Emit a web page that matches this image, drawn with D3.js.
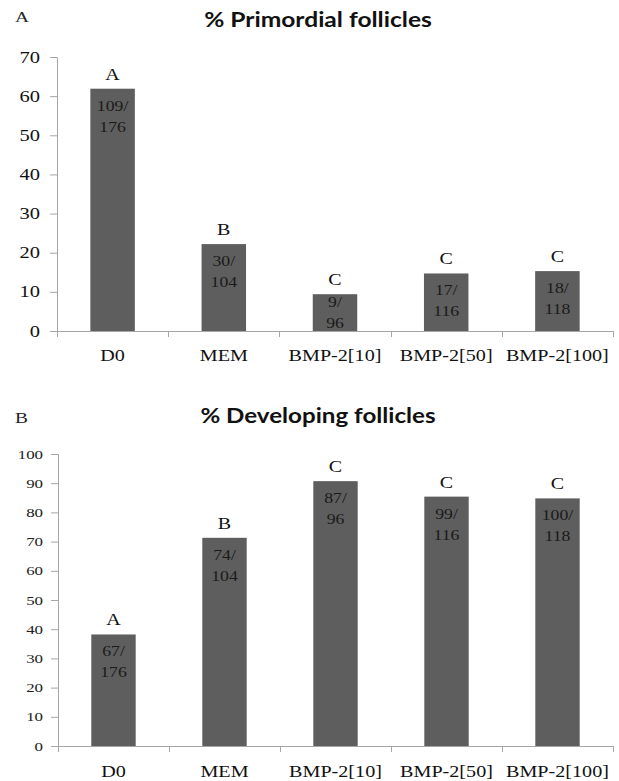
<!DOCTYPE html>
<html>
<head>
<meta charset="utf-8">
<script src="https://cdn.jsdelivr.net/npm/d3@7/dist/d3.min.js"></script>
<style>
	body { margin: 0; background: #fff; }
	svg { display: block; }
</style>
</head>
<body>
<svg id="chart" width="619" height="781"></svg>
<script>
// categories shared by both panels
const groups = ["D0", "MEM", "BMP-2[10]", "BMP-2[50]", "BMP-2[100]"];

// panel A : % primordial follicles
const primordialValues = [61.9, 22.2, 9.4, 14.7, 15.3];
const primordialCounts = [["109/", "176"], ["30/", "104"], ["9/", "96"], ["17/", "116"], ["18/", "118"]];
const primordialLetters = ["A", "B", "C", "C", "C"];
const primordialTicks = [0, 10, 20, 30, 40, 50, 60, 70];

// panel B : % developing follicles
const developingValues = [38.2, 71.3, 90.7, 85.4, 84.8];
const developingCounts = [["67/", "176"], ["74/", "104"], ["87/", "96"], ["99/", "116"], ["100/", "118"]];
const developingLetters = ["A", "B", "C", "C", "C"];
const developingTicks = [0, 10, 20, 30, 40, 50, 60, 70, 80, 90, 100];

const barColor = "#5e5e5e";
const axisColor = "#a6a6a6";
const serif = "'Liberation Serif', 'Times New Roman', serif";
const sans = "Lato, 'Open Sans', sans-serif";

let svg = d3.select('#chart');

// the source picture is stretched sideways, so widen glyphs the same way
function widen(sel, f){
	sel.each(function(){
		let w = this.getComputedTextLength();
		d3.select(this)
			.attr('textLength', w * f)
			.attr('lengthAdjust', 'spacingAndGlyphs');
	});
}

function panel(opt){
	let g = svg.append('g');

	let y = d3.scaleLinear()
		.domain([0, d3.max(opt.ticks)])
		.range([opt.bottom, opt.top]);

	// excel style: gap width 150% -> bar is 40% of the category slot
	let x = d3.scaleBand()
		.domain(groups)
		.range([opt.left, opt.right])
		.paddingInner(0.6)
		.paddingOuter(0.3);

	// panel letter and title
	g.append('text')
		.attr('x', 15).attr('y', opt.letterY)
		.style('font-family', serif)
		.style('font-size', '15.5px')
		.style('fill', '#222')
		.text(opt.panel)
		.call(widen, 1.25);

	g.append('text')
		.attr('x', 318).attr('y', opt.titleY)
		.attr('text-anchor', 'middle')
		.style('font-family', sans)
		.style('font-weight', '700')
		.style('font-size', '21px')
		.style('fill', '#111')
		.text(opt.title)
		.call(widen, opt.titleStretch);

	// y axis
	let yAxis = d3.axisLeft(y)
		.tickValues(opt.ticks)
		.tickSize(7)
		.tickPadding(opt.tickPad)
		.tickFormat(d3.format('d'));

	let ya = g.append('g')
		.attr('transform', `translate(${opt.left},0)`)
		.call(yAxis);
	ya.select('.domain').attr('stroke', axisColor);
	ya.selectAll('.tick line').attr('stroke', axisColor);
	ya.selectAll('.tick text')
		.style('font-family', serif)
		.style('font-size', opt.tickFont)
		.style('fill', opt.tickColor)
		.call(widen, opt.tickStretch);

	// x axis line with ticks on the category boundaries
	let bounds = groups.map(c => x(c) + x.bandwidth() / 2 - x.step() / 2);
	bounds.push(opt.right);

	g.append('line')
		.attr('x1', opt.left).attr('x2', opt.right)
		.attr('y1', opt.bottom + 0.5).attr('y2', opt.bottom + 0.5)
		.attr('stroke', axisColor);

	g.selectAll('.xtick')
		.data(bounds)
		.enter()
		.append('line')
		.attr('class', 'xtick')
		.attr('x1', d => Math.round(d) + 0.5).attr('x2', d => Math.round(d) + 0.5)
		.attr('y1', opt.bottom).attr('y2', opt.bottom + 6)
		.attr('stroke', axisColor);

	g.selectAll('.xlabel')
		.data(groups)
		.enter()
		.append('text')
		.attr('class', 'xlabel')
		.attr('x', d => x(d) + x.bandwidth() / 2)
		.attr('y', opt.bottom + opt.labelDy)
		.attr('text-anchor', 'middle')
		.style('font-family', serif)
		.style('font-size', '16.5px')
		.style('fill', '#111')
		.text(d => d)
		.call(widen, 1.22);

	// bars
	let bars = g.selectAll('.bar')
		.data(groups.map((c, i) => ({
			name: c,
			value: opt.values[i],
			count: opt.counts[i],
			letter: opt.letters[i]
		})))
		.enter()
		.append('g')
		.attr('class', 'bar');

	bars.append('rect')
		.attr('x', d => x(d.name))
		.attr('y', d => y(d.value))
		.attr('width', x.bandwidth())
		.attr('height', d => opt.bottom - y(d.value))
		.style('fill', barColor);

	bars.append('text')
		.attr('x', d => x(d.name) + x.bandwidth() / 2)
		.attr('y', d => y(d.value) - 9)
		.attr('text-anchor', 'middle')
		.style('font-family', serif)
		.style('font-size', '16px')
		.style('fill', '#111')
		.text(d => d.letter)
		.call(widen, 1.25);

	// the count label is kept inside the bar: lift it on short bars
	function lift(d){
		return Math.max(0, y(d.value) + 43 - (opt.bottom - 3));
	}

	let inner = bars.append('text')
		.attr('text-anchor', 'middle')
		.style('font-family', serif)
		.style('font-size', '14.5px')
		.style('fill', '#1a1a1a');

	inner.selectAll('tspan')
		.data(d => d.count.map((s, k) => ({ s: s, k: k, d: d })))
		.enter()
		.append('tspan')
		.attr('x', t => x(t.d.name) + x.bandwidth() / 2)
		.attr('y', t => y(t.d.value) + 22 + t.k * 21 - lift(t.d))
		.text(t => t.s)
		.call(widen, 1.22);
}

panel({
	panel: "A", title: "% Primordial follicles", titleY: 27, letterY: 22, titleStretch: 1.17,
	values: primordialValues, counts: primordialCounts, letters: primordialLetters,
	ticks: primordialTicks,
	left: 57, right: 613, top: 57, bottom: 331,
	tickPad: 10, tickFont: '16px', tickColor: '#111', tickStretch: 1.28, labelDy: 30
});

panel({
	panel: "B", title: "% Developing follicles", titleY: 423, letterY: 423, titleStretch: 1.15,
	values: developingValues, counts: developingCounts, letters: developingLetters,
	ticks: developingTicks,
	left: 58, right: 613, top: 454, bottom: 746,
	tickPad: 8, tickFont: '12.5px', tickColor: '#222', tickStretch: 1.35, labelDy: 31
});
</script>
</body>
</html>
